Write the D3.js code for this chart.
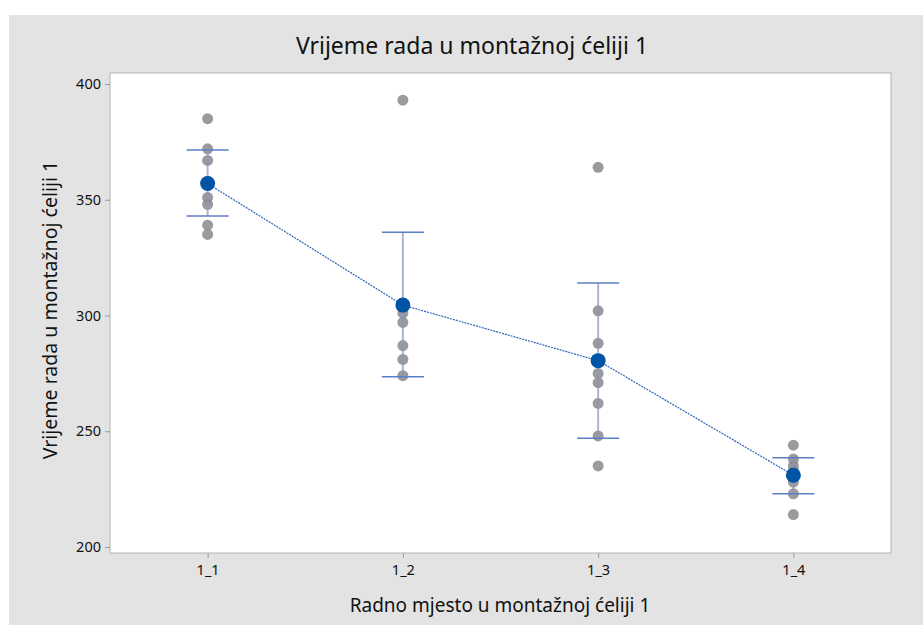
<!DOCTYPE html>
<html>
<head>
<meta charset="utf-8">
<script src="https://cdn.jsdelivr.net/npm/d3@7"></script>
<style>
  body { margin: 0; background: #ffffff; }
  text { font-family: "Noto Sans", "Open Sans", sans-serif; fill: #111111; }
</style>
</head>
<body>
<svg id="chart" width="923" height="625"></svg>
<script>
// groups on the x axis
var categories = ["1_1", "1_2", "1_3", "1_4"];
// individual observations per group
var obs11 = [385, 372, 367, 358, 351, 348, 339, 335];
var obs12 = [393, 305, 301, 297, 287, 281, 274];
var obs13 = [364, 302, 288, 275, 271, 262, 248, 235];
var obs14 = [244, 238, 235, 233, 228, 223, 214];
// group means and 95% CI
var means = [357, 304.5, 280.5, 231];
var ciLow = [343, 273.5, 247, 223];
var ciHigh = [371.5, 336, 314, 238.5];
var yTicks = [200, 250, 300, 350, 400];

var svg = d3.select("#chart");
var plot = {left: 110, right: 891, top: 73, bottom: 553};

// gray panel
svg.append("rect")
	.attr("x", 9).attr("y", 15)
	.attr("width", 923 - 9).attr("height", 625 - 15)
	.attr("fill", "#e3e3e3");

svg.append("rect")
	.attr("x", plot.left).attr("y", plot.top)
	.attr("width", plot.right - plot.left).attr("height", plot.bottom - plot.top)
	.attr("fill", "#ffffff")
	.attr("stroke", "#b4b4b4");

var x = d3.scalePoint().domain(categories).range([plot.left, plot.right]).padding(0.5);
var y = d3.scaleLinear().domain([200, 400]).range([547, 84]);

var yAxis = svg.append("g")
	.attr("transform", "translate(" + plot.left + ",0)")
	.call(d3.axisLeft(y).tickValues(yTicks).tickSize(5).tickPadding(4));
yAxis.select(".domain").remove();
yAxis.selectAll("line").attr("stroke", "#9a9a9a");
yAxis.selectAll("text").style("font-size", "14.5px").attr("fill", "#111111");

var xAxis = svg.append("g")
	.attr("transform", "translate(0," + plot.bottom + ")")
	.call(d3.axisBottom(x).tickSize(5).tickPadding(7));
xAxis.select(".domain").remove();
xAxis.selectAll("line").attr("stroke", "#9a9a9a");
xAxis.selectAll("text").style("font-size", "14.5px").attr("fill", "#111111");

// observations
var allObs = [obs11, obs12, obs13, obs14];
allObs.forEach(function(list, i){
	svg.append("g").selectAll("circle")
		.data(list)
		.enter().append("circle")
		.attr("cx", x(categories[i]))
		.attr("cy", function(d){ return y(d); })
		.attr("r", 5.5)
		.attr("fill", "#8a8a8a")
		.attr("fill-opacity", 0.85);
});

// interval bars
categories.forEach(function(c, i){
	var cx = x(c);
	svg.append("line")
		.attr("x1", cx).attr("x2", cx)
		.attr("y1", y(ciHigh[i])).attr("y2", y(ciLow[i]))
		.attr("stroke", "#8796c6").attr("stroke-width", 2).attr("stroke-opacity", 0.7);
	[ciHigh[i], ciLow[i]].forEach(function(v){
		svg.append("line")
			.attr("x1", cx - 21).attr("x2", cx + 21)
			.attr("y1", y(v)).attr("y2", y(v))
			.attr("stroke", "#5b7fc4").attr("stroke-width", 1.5);
	});
});

// mean connect line
var line = d3.line()
	.x(function(d, i){ return x(categories[i]); })
	.y(function(d){ return y(d); });
svg.append("path")
	.datum(means)
	.attr("d", line)
	.attr("fill", "none")
	.attr("stroke", "#2e64b8")
	.attr("stroke-width", 1.2)
	.attr("stroke-dasharray", "2,1");

svg.append("g").selectAll("circle")
	.data(means)
	.enter().append("circle")
	.attr("cx", function(d, i){ return x(categories[i]); })
	.attr("cy", function(d){ return y(d); })
	.attr("r", 7.5)
	.attr("fill", "#0054a6");

// titles
svg.append("text")
	.attr("x", 472).attr("y", 54)
	.attr("text-anchor", "middle")
	.style("font-size", "23px")
	.text("Vrijeme rada u montažnoj ćeliji 1");

svg.append("text")
	.attr("x", 500).attr("y", 612)
	.attr("text-anchor", "middle")
	.style("font-size", "19px")
	.text("Radno mjesto u montažnoj ćeliji 1");

svg.append("text")
	.attr("transform", "translate(57," + ((plot.top + plot.bottom) / 2 - 3) + ") rotate(-90)")
	.attr("text-anchor", "middle")
	.style("font-size", "19.5px")
	.text("Vrijeme rada u montažnoj ćeliji 1");
</script>
</body>
</html>
